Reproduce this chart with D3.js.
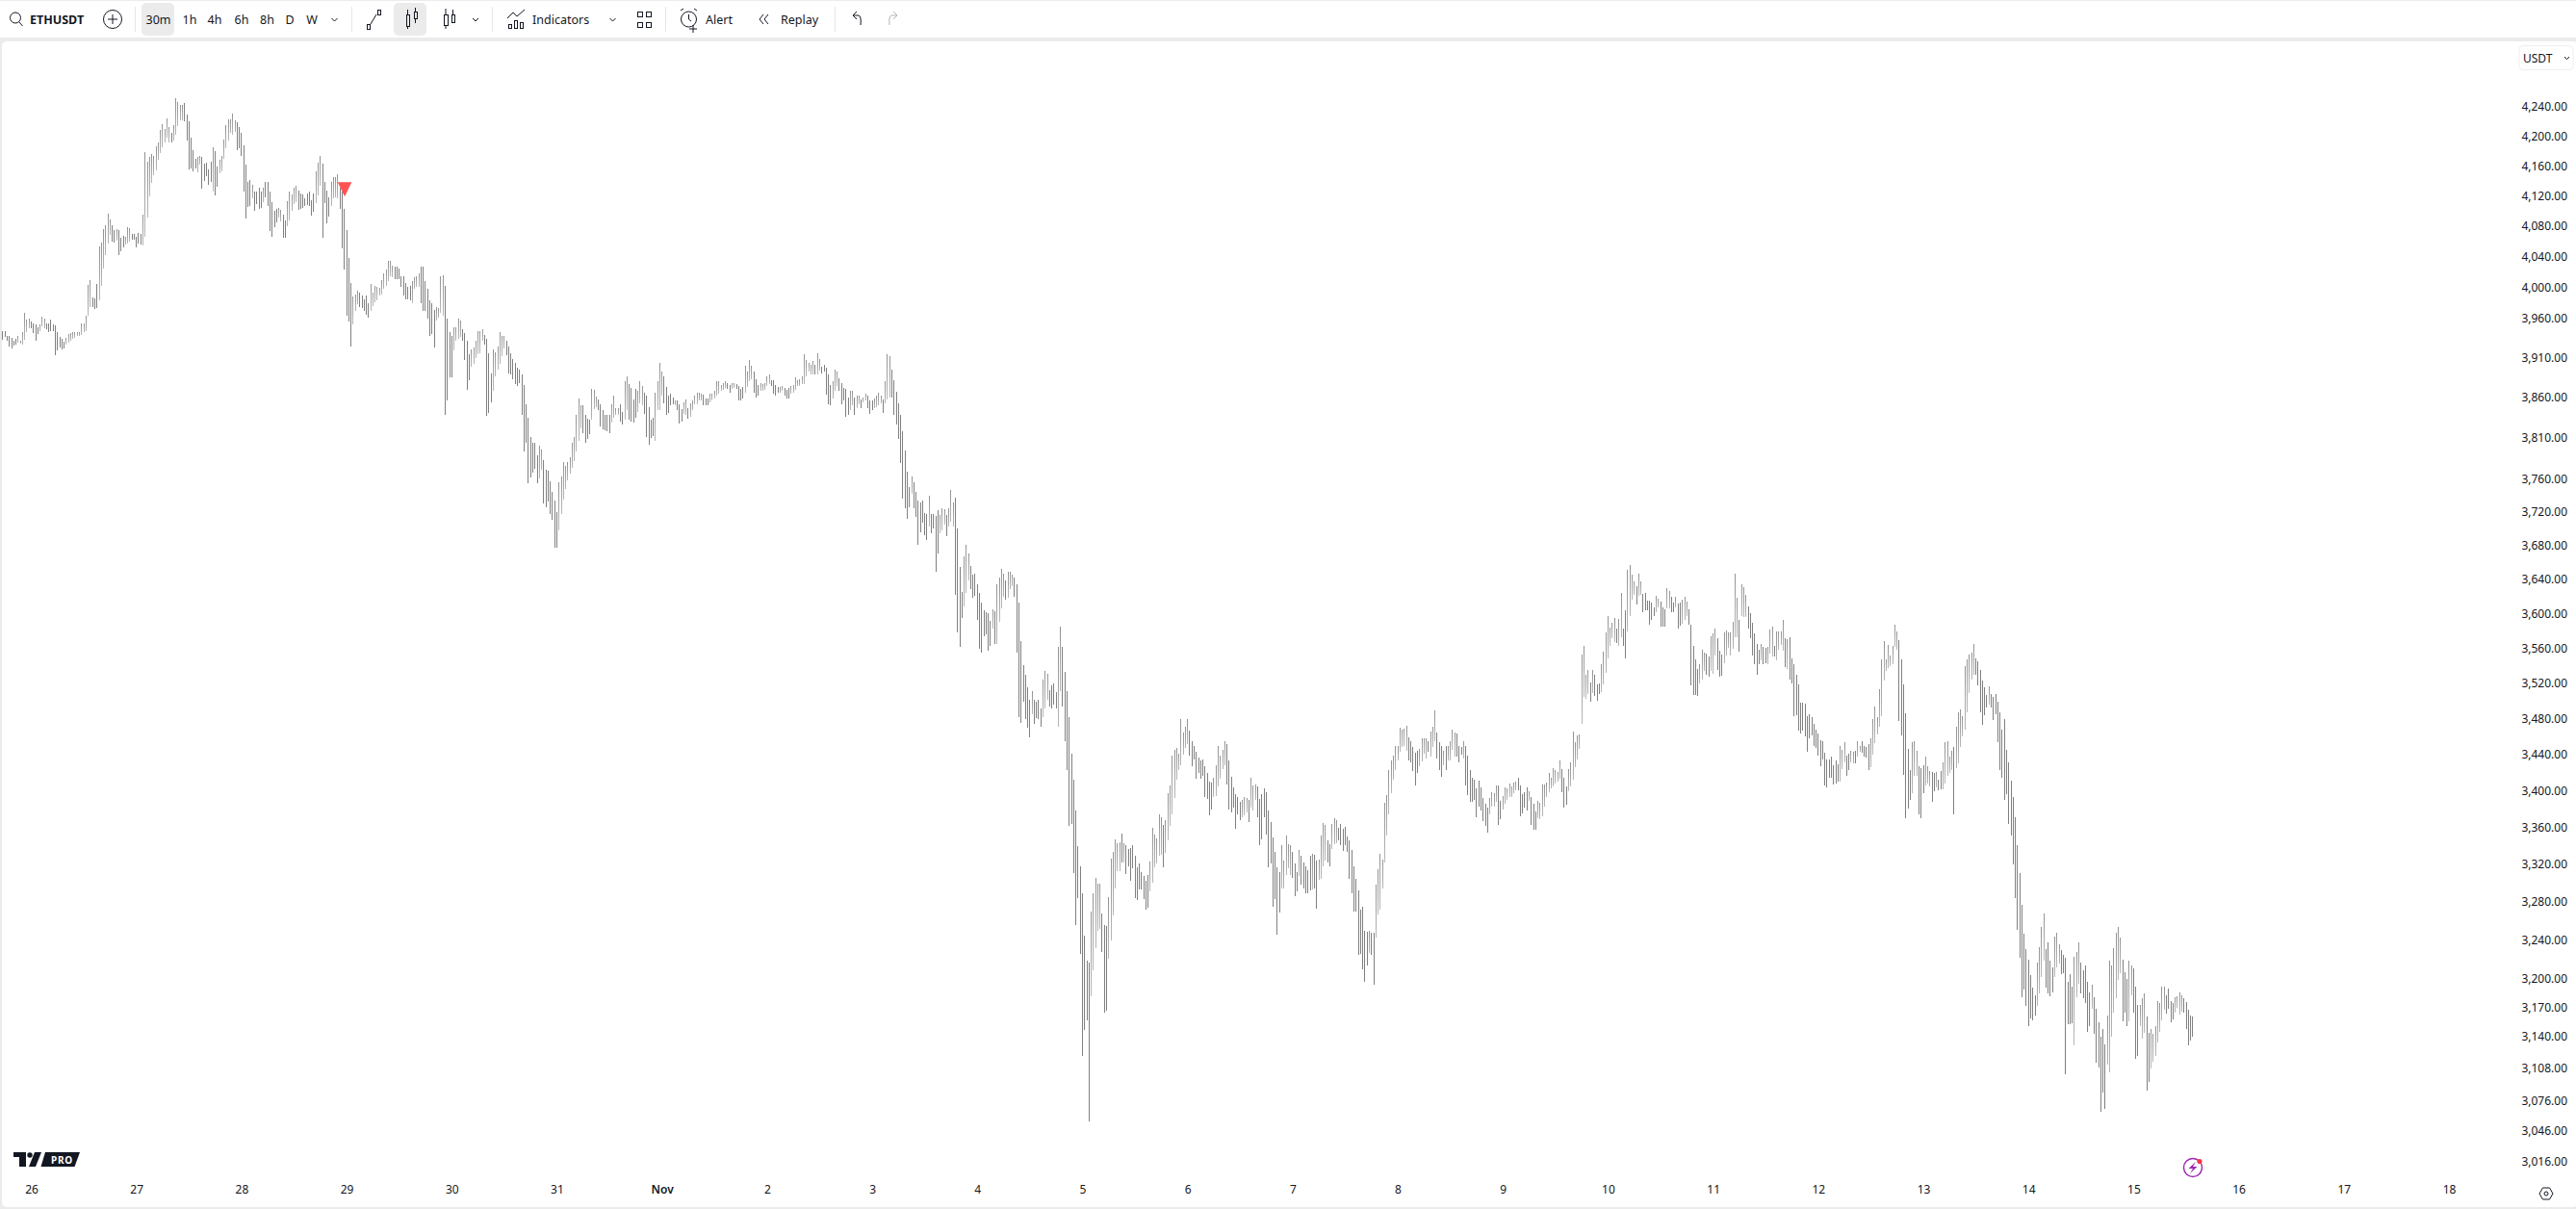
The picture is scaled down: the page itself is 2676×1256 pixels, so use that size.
<!DOCTYPE html>
<html>
<head>
<meta charset="utf-8">
<title>ETHUSDT</title>
<script src="https://cdn.jsdelivr.net/npm/d3@7"></script>
<style>
  html, body { margin: 0; padding: 0; background: #fff; overflow: hidden; }
  svg { display: block; }
  text { font-family: "Noto Sans", sans-serif; fill: #131722; }
  .icon { fill: none; stroke: #131722; stroke-width: 1; }
  .icon.off { stroke: #b2b5be; }
</style>
</head>
<body>
<div id="chart"></div>
<script>
// 30 minute bars, first one is 25 Oct 2025 17:30 UTC
var firstBar = "2025-10-25T17:30:00Z";

var highs = [
  3944,3944,3938,3937,3935,3932,3934,3937,3932,3943,
  3967,3959,3960,3956,3954,3952,3949,3952,3962,3960,
  3954,3954,3958,3952,3951,3942,3936,3934,3930,3935,
  3940,3941,3943,3942,3943,3943,3953,3953,3964,4003,
  4009,3987,3986,4004,4053,4058,4076,4081,4096,4089,
  4081,4075,4076,4074,4065,4067,4066,4079,4077,4069,
  4069,4066,4071,4070,4095,4178,4166,4172,4176,4173,
  4186,4191,4208,4216,4210,4224,4213,4205,4215,4252,
  4246,4243,4242,4245,4230,4220,4198,4181,4170,4172,
  4173,4172,4163,4164,4155,4166,4185,4180,4159,4168,
  4173,4195,4215,4223,4223,
  4231,4222,4219,4212,4204,4187,4162,4139,4141,4135,
  4126,4126,4131,4125,4131,4139,4139,4125,4112,4100,
  4103,4104,4101,4095,4087,4113,4125,4122,4131,4133,
  4127,4123,4122,4117,4123,4125,4114,4123,4153,4164,
  4173,4163,4139,4127,4118,4139,4145,4145,4149,4131,
  4125,4103,4075,4038,4005,3988,3990,3996,3993,3989,
  3985,3989,3979,4004,3993,4002,4000,3999,4009,4018,
  4023,4034,4034,4028,4027,4027,4024,4014,4014,4006,
  4001,4002,4008,4013,4014,4018,4027,4027,4008,3998,
  3983,3979,3971,3974,3973,4014,4015,4002,3960,3943,
  3937,3949,3949,3960,3957,3946,3941,3931,3914,3921,
  3923,3932,3944,3944,3946,3939,3934,3916,3890,3920,
  3917,3924,3942,3938,3937,3932,3924,3916,3908,3904,
  3898,3895,3889,3876,3852,3835,3811,3804,3804,3789,
  3800,3796,3783,3771,3770,3757,3744,3734,3720,3756,
  3763,3780,3776,3781,3786,3804,3811,3838,3859,3850,
  3850,3838,3834,3833,3871,3870,3861,3858,3852,3845,
  3838,3839,3839,3852,3863,3847,3847,3852,3842,3881,
  3887,3877,3872,3858,3871,3869,3881,3874,3866,3863,
  3848,3833,3835,3866,3880,3904,3892,3887,3873,3863,
  3865,3860,3857,3857,3852,3846,3854,3858,3847,3853,
  3857,3863,3866,3866,3865,3864,3859,3859,3865,3865,
  3869,3881,3881,3876,3878,3880,3878,3876,3878,3878,
  3877,3875,3871,3873,3900,3892,3907,3900,3892,3883,
  3876,3878,3877,3878,3887,3889,3882,3882,3876,3873,
  3873,3875,3872,3870,3872,3875,3876,3885,3882,3883,
  3886,3914,3907,3904,3901,3906,3901,3916,3908,3899,
  3901,3898,3889,3876,3881,3895,3892,3884,3878,3872,
  3871,3860,3869,3869,3860,3863,3862,3858,3860,3865,
  3863,3857,3857,3859,3862,3866,3862,3858,3881,3914,
  3912,3895,3882,3867,3853,3839,3818,3795,3769,3750,
  3763,3756,3744,3734,3731,3734,3719,3718,3739,3717,
  3717,3715,3722,3716,3725,3723,3716,3725,3746,3732,
  3737,3700,3655,3625,3667,3681,3671,3656,3645,3647,
  3634,3624,3613,3604,3601,3600,3591,3605,3603,3634,
  3642,3652,3647,3639,3649,3649,3645,3642,3634,3613,
  3568,3540,3529,3515,3501,3511,3501,3499,3501,3491,
  3524,3534,3531,3512,3517,3520,3510,3561,3585,3561,
  3533,3511,3482,3441,3412,3378,3339,3318,3289,3244,
  3218,3216,3270,3289,3305,3299,3299,3268,3255,3254,
  3285,3326,3333,3347,3343,3344,3353,3343,3340,3336,
  3337,3340,3329,3317,3321,3312,3307,3302,3308,3323,
  3359,3352,3348,3374,3371,3362,3368,3397,3405,3438,
  3445,3447,3441,3479,3464,3471,3479,3466,3455,3449,
  3443,3436,3433,3434,3427,3419,3410,3409,3414,3428,
  3449,3438,3445,3455,3451,3433,3415,3403,3396,3393,
  3388,3390,3393,3392,3390,3414,3405,3407,3404,3391,
  3396,3402,3398,3378,3365,3349,3333,3317,3312,3340,
  3324,3351,3342,3341,3333,3321,3312,3335,3329,3322,
  3318,3314,3329,3331,3330,3324,3325,3351,3364,3362,
  3346,3342,3363,3370,3368,3359,3363,3358,3360,3350,
  3346,3335,3318,3304,3292,3272,3275,3249,3248,3249,
  3247,3247,3298,3315,3331,3325,3386,3395,3422,3433,
  3438,3449,3449,3470,3468,3469,3472,3459,3455,3448,
  3442,3444,3446,3458,3458,3458,3455,3465,3471,3489,
  3464,3453,3449,3444,3449,3449,3455,3467,3464,3463,
  3449,3448,3455,3449,3438,3423,3414,3412,3402,3411,
  3403,3392,3385,3381,3392,3398,3397,3406,3405,3389,
  3394,3403,3402,3408,3404,3409,3410,3414,3405,3396,
  3398,3403,3399,3393,3385,3377,3389,3386,3407,3407,
  3409,3419,3414,3425,3423,3420,3433,3424,3414,3404,
  3424,3431,3465,3453,3461,3462,3553,3563,3530,3535,
  3521,3535,3530,3519,3520,3542,3556,3578,3597,3584,
  3589,3595,3583,3594,3624,3583,3604,3651,3657,3646,
  3638,3632,3647,3637,3623,3624,3615,3615,3613,3607,
  3621,3617,3614,3607,3605,3630,3626,3620,3613,3620,
  3612,3613,3616,3620,3614,3605,3587,3563,3547,3536,
  3542,3558,3555,3554,3550,3574,3577,3582,3571,3557,
  3553,3578,3580,3578,3578,3590,3647,3618,3592,3634,
  3631,3622,3608,3600,3589,3577,3565,3558,3565,3561,
  3560,3561,3581,3585,3563,3579,3579,3579,3593,3571,
  3570,3573,3548,3541,3530,3518,3498,3498,3497,3483,
  3485,3481,3474,3468,3463,3456,3455,3442,3434,3434,
  3437,3428,3433,3429,3449,3445,3454,3439,3441,3444,
  3443,3444,3455,3449,3455,3449,3448,3451,3458,3479,
  3493,3481,3513,3547,3568,3547,3564,3551,3563,3587,
  3579,3569,3547,3519,3486,3446,3422,3454,3455,3444,
  3427,3425,3428,3437,3427,3421,3420,3419,3420,3412,
  3421,3431,3453,3455,3437,3444,3448,3471,3487,3490,
  3483,3539,3547,3553,3555,3565,3548,3545,3535,3523,
  3515,3507,3516,3508,3504,3508,3499,3487,3468,3479,
  3445,3431,3411,3393,3371,3340,3311,3277,3246,3230,
  3219,3203,3190,3182,3216,3232,3253,3268,3230,3237,
  3218,3211,3243,3247,3235,3229,3224,3221,3196,3204,
  3191,3222,3227,3237,3216,3208,3213,3196,3185,3193,
  3180,3169,3155,3140,3148,3132,3162,3218,3213,3231,
  3247,3253,3242,3219,3206,3199,3218,3213,3210,3191,
  3172,3172,3179,3184,3161,3144,3148,3143,3151,3176,
  3174,3191,3191,3182,3189,3176,3174,3180,3181,3185,
  3182,3179,3175,3168,3162,3161
];

var lows = [
  3933,3936,3931,3924,3922,3925,3926,3929,3928,3926,
  3933,3942,3947,3947,3941,3931,3940,3944,3950,3948,
  3946,3942,3944,3944,3913,3919,3923,3920,3922,3927,
  3929,3932,3934,3935,3937,3938,3939,3942,3944,3963,
  3974,3974,3972,3973,3983,4002,4024,4042,4057,4068,
  4059,4058,4061,4042,4047,4052,4056,4057,4059,4062,
  4062,4052,4057,4056,4054,4066,4091,4119,4137,4148,
  4154,4168,4177,4185,4191,4198,4191,4192,4194,4202,
  4214,4221,4221,4220,4194,4155,4156,4152,4157,4151,
  4162,4129,4140,4146,4135,4139,4125,4121,4132,4150,
  4152,4170,4184,4194,4205,
  4202,4206,4181,4184,4173,4126,4090,4105,4106,4116,
  4100,4109,4103,4104,4112,4118,4107,4073,4066,4079,
  4085,4091,4086,4064,4065,4080,4087,4100,4109,4111,
  4101,4102,4104,4107,4108,4107,4094,4099,4110,4120,
  4133,4065,4110,4084,4092,4107,4116,4118,4117,4102,
  4050,4023,3963,3956,3924,3952,3970,3978,3974,3973,
  3969,3965,3961,3969,3976,3981,3983,3989,3990,3998,
  4002,4008,4014,4013,4011,4010,4010,4000,3989,3984,
  3984,3983,3980,3998,4000,4000,3980,3970,3969,3960,
  3938,3940,3923,3957,3961,3967,3963,3838,3856,3885,
  3885,3919,3931,3934,3936,3931,3907,3870,3882,3899,
  3902,3909,3914,3916,3931,3926,3837,3841,3854,3868,
  3886,3895,3902,3912,3922,3913,3890,3889,3883,3877,
  3875,3878,3839,3793,3804,3755,3762,3767,3772,3755,
  3761,3771,3730,3726,3733,3718,3711,3677,3677,3698,
  3718,3735,3748,3758,3766,3773,3782,3793,3806,3822,
  3816,3804,3809,3815,3833,3846,3848,3844,3824,3821,
  3820,3818,3816,3829,3835,3838,3839,3830,3826,3832,
  3844,3832,3830,3829,3835,3842,3853,3851,3840,3811,
  3802,3810,3812,3807,3844,3844,3863,3853,3838,3841,
  3850,3852,3850,3845,3828,3830,3840,3839,3834,3836,
  3844,3852,3852,3856,3856,3851,3851,3851,3854,3857,
  3859,3862,3865,3869,3870,3872,3871,3866,3871,3872,
  3871,3856,3856,3859,3866,3873,3880,3883,3866,3860,
  3862,3868,3869,3870,3875,3877,3874,3865,3862,3866,
  3866,3868,3863,3859,3859,3865,3866,3870,3874,3875,
  3877,3877,3887,3892,3889,3889,3889,3889,3894,3890,
  3892,3864,3852,3851,3859,3868,3875,3868,3852,3856,
  3836,3839,3844,3850,3838,3847,3852,3847,3854,3856,
  3847,3840,3845,3847,3848,3851,3853,3841,3853,3858,
  3860,3860,3838,3826,3809,3779,3736,3725,3712,3726,
  3742,3725,3714,3681,3696,3707,3692,3686,3703,3694,
  3700,3649,3671,3694,3698,3705,3691,3702,3708,3703,
  3622,3578,3561,3595,3608,3624,3639,3629,3618,3621,
  3592,3559,3555,3574,3576,3557,3563,3583,3565,3565,
  3590,3606,3620,3616,3618,3629,3632,3619,3555,3482,
  3475,3499,3479,3470,3459,3485,3474,3480,3479,3471,
  3482,3491,3501,3493,3491,3496,3491,3471,3511,3493,
  3455,3422,3361,3363,3310,3255,3284,3225,3121,3147,
  3157,3055,3181,3208,3231,3249,3251,3227,3165,3167,
  3220,3239,3266,3294,3313,3313,3322,3322,3309,3318,
  3302,3316,3284,3282,3293,3293,3283,3272,3274,3291,
  3300,3317,3321,3329,3330,3317,3332,3346,3361,3374,
  3392,3412,3422,3428,3440,3447,3451,3438,3427,3434,
  3413,3419,3413,3416,3393,3391,3373,3379,3393,3394,
  3404,3413,3424,3428,3407,3379,3376,3381,3358,3374,
  3368,3371,3373,3376,3365,3381,3378,3390,3371,3341,
  3347,3371,3352,3317,3321,3275,3283,3245,3269,3294,
  3294,3308,3316,3308,3305,3286,3291,3307,3298,3294,
  3289,3289,3292,3293,3294,3273,3303,3304,3318,3324,
  3322,3318,3336,3342,3343,3346,3341,3334,3341,3333,
  3304,3289,3270,3270,3224,3225,3209,3196,3213,3226,
  3224,3193,3242,3267,3272,3294,3322,3351,3374,3397,
  3412,3423,3433,3443,3448,3449,3444,3433,3431,3421,
  3405,3419,3427,3432,3441,3435,3443,3437,3448,3455,
  3435,3423,3415,3428,3423,3433,3433,3445,3437,3437,
  3431,3440,3435,3405,3395,3388,3388,3390,3371,3382,
  3378,3367,3361,3354,3374,3382,3382,3388,3362,3369,
  3379,3385,3390,3393,3393,3397,3400,3400,3372,3375,
  3381,3378,3389,3362,3357,3357,3370,3369,3372,3382,
  3393,3398,3402,3404,3408,3410,3413,3398,3381,3384,
  3399,3404,3412,3426,3434,3446,3474,3504,3502,3508,
  3499,3509,3505,3500,3508,3510,3519,3532,3548,3562,
  3571,3567,3566,3563,3573,3562,3548,3579,3597,3616,
  3622,3611,3621,3622,3602,3604,3604,3587,3593,3597,
  3602,3607,3585,3585,3585,3606,3606,3602,3602,3607,
  3582,3586,3588,3593,3597,3587,3517,3506,3506,3505,
  3520,3524,3534,3529,3527,3534,3531,3551,3535,3527,
  3528,3543,3551,3560,3551,3559,3573,3573,3556,3597,
  3596,3596,3582,3571,3552,3541,3529,3541,3546,3542,
  3543,3542,3554,3550,3550,3546,3558,3564,3557,3538,
  3536,3524,3520,3483,3484,3466,3463,3466,3460,3443,
  3458,3461,3449,3447,3438,3427,3434,3406,3403,3414,
  3414,3407,3408,3410,3410,3424,3431,3416,3423,3431,
  3430,3430,3437,3443,3442,3437,3436,3422,3426,3440,
  3452,3462,3471,3483,3523,3534,3537,3539,3542,3561,
  3558,3477,3461,3417,3370,3380,3390,3397,3416,3416,
  3374,3370,3397,3406,3408,3404,3388,3399,3403,3400,
  3401,3401,3408,3416,3419,3423,3374,3425,3430,3448,
  3460,3468,3487,3509,3524,3530,3530,3517,3487,3473,
  3484,3492,3496,3492,3478,3485,3454,3423,3414,3390,
  3396,3363,3351,3320,3284,3250,3221,3180,3188,3171,
  3151,3159,3157,3162,3171,3184,3201,3218,3190,3184,
  3181,3185,3201,3211,3215,3204,3205,3102,3153,3153,
  3154,3131,3180,3194,3184,3179,3174,3145,3151,3169,
  3143,3114,3109,3065,3084,3068,3112,3104,3140,3165,
  3179,3198,3205,3156,3165,3151,3156,3182,3165,3118,
  3121,3151,3138,3144,3086,3095,3108,3115,3121,3134,
  3145,3157,3168,3164,3169,3155,3158,3165,3170,3163,
  3166,3165,3148,3131,3136,3140
];

// runs of bars that closed up, as [first index, last index]
var risingRuns = [
  [7,12],[17,19],[29,40],[44,49],[52,52],[56,58],[64,76],[78,82],[89,90],[96,96],[99,106],
  [114,114],[119,119],[126,127],[130,134],[143,145],[150,153],[160,162],[168,178],[187,190],
  [198,201],[206,209],[214,219],[224,229],[245,246],[254,264],[269,271],[278,281],[284,285],
  [290,292],[298,301],[307,307],[311,312],[314,319],[323,330],[333,334],[339,342],[346,350],
  [355,356],[360,370],[372,373],[379,381],[387,388],[390,391],[393,394],[398,401],[403,405],
  [415,415],[423,423],[428,430],[432,434],[439,441],[452,452],[454,457],[459,461],[470,470],
  [475,477],[482,483],[497,501],[505,510],[512,512],[524,529],[531,541],[553,558],[566,568],
  [570,572],[584,588],[592,592],[598,598],[601,604],[607,609],[624,624],[627,641],[647,650],
  [652,654],[658,658],[660,663],[667,667],[679,682],[685,691],[697,697],[701,711],[715,724],
  [726,726],[730,736],[738,739],[742,745],[747,748],[755,756],[760,761],[764,764],[767,769],
  [775,777],[780,782],[786,792],[794,796],[803,803],[806,808],[810,813],[815,815],[839,841],
  [844,845],[847,848],[853,865],[872,874],[878,880],[883,883],[886,890],[892,900],[907,907],
  [929,932],[937,939],[946,948],[954,954],[961,967],[971,972],[976,978],[981,987],[992,995]
];

var priceTicks = [4240,4200,4160,4120,4080,4040,4000,3960,3910,3860,3810,3760,3720,3680,3640,3600,
  3560,3520,3480,3440,3400,3360,3320,3280,3240,3200,3170,3140,3108,3076,3046,3016];

var dayTicks = ["2025-10-26","2025-10-27","2025-10-28","2025-10-29","2025-10-30","2025-10-31",
  "2025-11-01","2025-11-02","2025-11-03","2025-11-04","2025-11-05","2025-11-06","2025-11-07",
  "2025-11-08","2025-11-09","2025-11-10","2025-11-11","2025-11-12","2025-11-13","2025-11-14",
  "2025-11-15","2025-11-16","2025-11-17","2025-11-18"];
var dayLabels = ["26","27","28","29","30","31","Nov","2","3","4","5","6","7","8","9","10","11","12","13","14","15","16","17","18"];

// the sell marker on the chart
var signalBar = 156;
var signalPrice = 4119;

var toolbarIntervals = ["30m","1h","4h","6h","8h","D","W"];
var intervalCenters = [164.5,197,223,251,277.5,301,324];

var width = 2676, height = 1256;

var svg = d3.select("#chart").append("svg")
    .attr("width", width)
    .attr("height", height);

// page frame and chart panel
svg.append("rect").attr("width", width).attr("height", height).attr("fill", "#ebebeb");
svg.append("rect").attr("x", 0).attr("y", 1).attr("width", width).attr("height", 38).attr("fill", "#fff");
svg.append("rect").attr("x", 2).attr("y", 43).attr("width", width).attr("height", 1211).attr("rx", 5).attr("fill", "#fff");

var defs = svg.append("defs");
var grad = defs.append("linearGradient").attr("id", "risingFill")
    .attr("x1", 0).attr("y1", 0).attr("x2", 0).attr("y2", 1);
grad.append("stop").attr("offset", "0%").attr("stop-color", "#929292");
grad.append("stop").attr("offset", "50%").attr("stop-color", "#a4a4a4");
grad.append("stop").attr("offset", "100%").attr("stop-color", "#b8b8b8");

// scales, the price scale is logarithmic
var x = d3.scaleUtc()
    .domain([new Date(dayTicks[0] + "T00:00:00Z"), new Date(dayTicks[dayTicks.length - 1] + "T00:00:00Z")])
    .range([32.5, 2544]);
var y = d3.scaleLog()
    .domain([4240, 3016])
    .range([111, 1206.7]);

var barTime = function (i) { return d3.utcMinute.offset(new Date(firstBar), i * 30); };
var isRising = function (i) { return risingRuns.some(function (r) { return i >= r[0] && i <= r[1]; }); };

// bars
svg.append("g").selectAll("rect")
    .data(d3.zip(highs, lows))
    .enter()
    .append("rect")
    .attr("x", function (d, i) { return Math.round(x(barTime(i)) - 0.5); })
    .attr("y", function (d) { return Math.round(y(d[0])); })
    .attr("width", 1)
    .attr("height", function (d) { return Math.max(1, Math.round(y(d[1])) - Math.round(y(d[0]))); })
    .attr("fill", function (d, i) { return isRising(i) ? "url(#risingFill)" : "#808080"; });

// sell marker
var sx = x(barTime(signalBar)), sy = y(signalPrice);
svg.append("path")
    .attr("d", "M" + (sx - 7) + "," + (sy - 15) + "L" + (sx + 7.5) + "," + (sy - 15) + "L" + (sx + 0.3) + "," + sy + "Z")
    .attr("fill", "#ff5252");

// price axis
var yAxis = svg.append("g")
    .attr("transform", "translate(2667,0)")
    .call(d3.axisLeft(y).tickValues(priceTicks).tickSize(0).tickPadding(0).tickFormat(d3.format(",.2f")));
yAxis.select(".domain").remove();
yAxis.selectAll("text").attr("font-family", null).attr("font-size", "12px");

// date axis
var xAxis = svg.append("g")
    .attr("transform", "translate(0,1231)")
    .call(d3.axisBottom(x)
        .tickValues(dayTicks.map(function (d) { return new Date(d + "T00:00:00Z"); }))
        .tickSize(0).tickPadding(0)
        .tickFormat(function (d, i) { return dayLabels[i]; }));
xAxis.select(".domain").remove();
xAxis.selectAll("text").attr("font-family", null).attr("font-size", "12px")
    .attr("font-weight", function (d, i) { return dayLabels[i] == "Nov" ? 600 : 400; });

// toolbar
var bar = svg.append("g").attr("font-size", "13px");
function label(txt, tx, anchor, weight, size) {
    return bar.append("text").attr("x", tx).attr("y", 24.5)
        .attr("text-anchor", anchor || "middle")
        .attr("font-weight", weight || 400)
        .attr("font-size", size || "12.5px")
        .text(txt);
}
function line(x1, y1, x2, y2, color) {
    bar.append("line").attr("x1", x1).attr("y1", y1).attr("x2", x2).attr("y2", y2)
        .attr("stroke", color || "#131722");
}
function chevron(cx) {
    bar.append("path").attr("class", "icon").attr("d", "M" + (cx - 3) + ",19L" + cx + ",22L" + (cx + 3) + ",19");
}
function box(bx, by, w, h) {
    bar.append("rect").attr("class", "icon").attr("x", bx + 0.5).attr("y", by + 0.5).attr("width", w).attr("height", h);
}

bar.append("rect").attr("x", 147).attr("y", 3).attr("width", 34).attr("height", 34).attr("rx", 5).attr("fill", "#ebebeb");
bar.append("rect").attr("x", 409).attr("y", 3).attr("width", 34).attr("height", 34).attr("rx", 5).attr("fill", "#ebebeb");

// search and symbol
bar.append("circle").attr("class", "icon").attr("cx", 16).attr("cy", 18.5).attr("r", 5.5).attr("stroke-width", 1.6);
line(20, 23, 23.5, 27);
label("ETHUSDT", 31, "start", 700);
bar.append("circle").attr("class", "icon").attr("cx", 117).attr("cy", 20).attr("r", 9.5);
line(112, 20, 122, 20);
line(117, 15, 117, 25);

toolbarIntervals.forEach(function (t, i) { label(t, intervalCenters[i]); });
chevron(347.5);

// separators
[140.5, 365.5, 511.5, 691.5, 867.5].forEach(function (sepX) { line(sepX, 7, sepX, 33, "#e6e6e6"); });

// bar style icons
box(381, 25, 3, 5); box(392, 10, 3, 5);
line(385, 25, 391, 15);
box(422, 15, 3, 12); line(423.5, 10, 423.5, 15); line(423.5, 27, 423.5, 30);
box(430, 12, 3, 7); line(431.5, 8, 431.5, 12); line(431.5, 19, 431.5, 24);
box(461, 15, 4, 11); line(463, 9, 463, 15); line(463, 26, 463, 30);
box(469, 15, 3, 8); line(470.5, 10, 470.5, 15);
chevron(494);

// indicators
bar.append("path").attr("class", "icon").attr("d", "M527,19L533,13L537,17L545,10");
box(528, 25, 3, 4); box(534, 21, 3, 8); box(540, 23, 3, 6);
label("Indicators", 553, "start");
chevron(636.5);

// layouts
box(662, 12, 5, 5); box(671, 12, 5, 5); box(662, 23, 5, 5); box(671, 23, 5, 5);

// alert
bar.append("circle").attr("class", "icon").attr("cx", 715.5).attr("cy", 20).attr("r", 8);
bar.append("path").attr("class", "icon").attr("d", "M715.5,15V20L718,22M707,11L710,9M724,11L721,9");
line(720, 26, 720, 34); line(716, 30, 724, 30);
label("Alert", 733, "start");

// replay
bar.append("path").attr("class", "icon").attr("d", "M793,15L789,20L793,25M798,15L794,20L798,25");
label("Replay", 811, "start");

// undo, redo
bar.append("path").attr("class", "icon").attr("d", "M886,16L890,12M886,16L890,20M886,16H892Q895,17 894,26");
bar.append("path").attr("class", "icon off").attr("d", "M932,16L928,12M932,16L928,20M932,16H926Q923,17 924,26");

// currency button on the price axis
svg.append("rect").attr("x", 2617).attr("y", 47.5).attr("width", 56).attr("height", 25).attr("rx", 4)
    .attr("fill", "#fff").attr("stroke", "#eeeeee");
svg.append("text").attr("x", 2621).attr("y", 64.5).attr("font-size", "12px").text("USDT");
svg.append("path").attr("class", "icon").attr("d", "M2664,59L2666.5,61.5L2669,59");

// tradingview logo
var logo = svg.append("g").attr("fill", "#131722");
logo.append("path").attr("d", "M14,1197H27V1212H20V1202H14Z");
logo.append("circle").attr("cx", 31).attr("cy", 1200).attr("r", 2.7);
logo.append("path").attr("d", "M30,1212L36,1197H43L37,1212Z");
logo.append("path").attr("d", "M47,1197H83L77.5,1212H42.5Z");
svg.append("text").attr("x", 53).attr("y", 1208.5).attr("font-size", "10px").attr("font-weight", 700)
    .attr("letter-spacing", "0.8").style("fill", "#fff").text("PRO");

// bolt button
svg.append("circle").attr("cx", 2278).attr("cy", 1213).attr("r", 9.5).attr("fill", "none").attr("stroke", "#9c27b0").attr("stroke-width", 1.4);
svg.append("path").attr("d", "M2281,1207L2273.5,1214H2278L2275,1219L2282.5,1212H2278Z").attr("fill", "#9c27b0");
svg.append("circle").attr("cx", 2285).attr("cy", 1206.5).attr("r", 2.6).attr("fill", "#f23645");

// settings hexagon
svg.append("path").attr("class", "icon").attr("d", "M2638,1240L2641.5,1234H2648.5L2652,1240L2648.5,1246H2641.5Z");
svg.append("circle").attr("class", "icon").attr("cx", 2645).attr("cy", 1240).attr("r", 2);
</script>
</body>
</html>
